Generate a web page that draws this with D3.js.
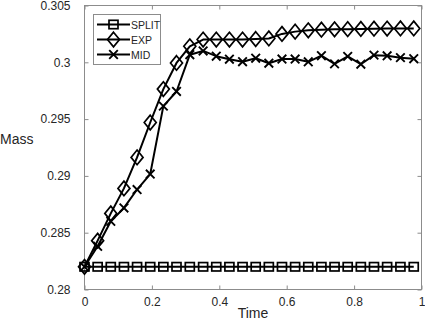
<!DOCTYPE html>
<html>
<head>
<meta charset="utf-8">
<script src="https://cdn.jsdelivr.net/npm/d3@7"></script>
<style>
  body { margin: 0; background: #fff; }
  text { font-family: "Liberation Sans", Arial, Helvetica, sans-serif; fill: #262626; }
</style>
</head>
<body>
<div id="chart"></div>
<script>
// time steps (x)
const times = [0, 0.039, 0.078, 0.117, 0.156, 0.195, 0.234, 0.273, 0.3125, 0.352,
  0.391, 0.430, 0.469, 0.508, 0.547, 0.586, 0.625, 0.664, 0.703, 0.742,
  0.781, 0.820, 0.859, 0.898, 0.9375, 0.977];

const splitMass = [0.282, 0.282, 0.282, 0.282, 0.282, 0.282, 0.282, 0.282, 0.282, 0.282,
  0.282, 0.282, 0.282, 0.282, 0.282, 0.282, 0.282, 0.282, 0.282, 0.282,
  0.282, 0.282, 0.282, 0.282, 0.282, 0.282];

const expMass = [0.282, 0.2843, 0.2867, 0.2889, 0.29163, 0.2947, 0.29764, 0.29994, 0.30141, 0.3020,
  0.3020, 0.3020, 0.3020, 0.30205, 0.3021, 0.3025, 0.3027, 0.30282, 0.30287, 0.3029,
  0.30292, 0.30294, 0.30296, 0.30297, 0.30298, 0.30298];

const midMass = [0.282, 0.2838, 0.2860, 0.28718, 0.2888, 0.29016, 0.29614, 0.29743, 0.30067, 0.3010,
  0.30054, 0.30027, 0.30005, 0.30036, 0.29992, 0.30029, 0.30029, 0.30004, 0.30058, 0.29986,
  0.30052, 0.29983, 0.30063, 0.30057, 0.30041, 0.30032];

const seriesNames = ["SPLIT", "EXP", "MID"];
const xTicks = [0, 0.2, 0.4, 0.6, 0.8, 1];
const yTicks = [0.28, 0.285, 0.29, 0.295, 0.3, 0.305];

const W = 425, H = 327;
const pLeft = 84.5, pRight = 421.5, pTop = 5.5, pBottom = 289.5;
const axisColor = "#8c8c8c";

const svg = d3.select("#chart").append("svg")
  .attr("width", W)
  .attr("height", H);

const x = d3.scaleLinear().domain([0, 1]).range([pLeft, pRight]);
const y = d3.scaleLinear().domain([0.28, 0.305]).range([pBottom, pTop]);

// box and ticks (MATLAB style, inward ticks on all sides)
const tickLen = 4;
svg.append("rect")
  .attr("x", pLeft).attr("y", pTop)
  .attr("width", pRight - pLeft).attr("height", pBottom - pTop)
  .attr("fill", "none").attr("stroke", axisColor).attr("stroke-width", 1);

const xAxis = svg.append("g")
  .attr("transform", `translate(0,${pBottom})`)
  .call(d3.axisBottom(x).tickValues(xTicks).tickSize(-tickLen).tickPadding(8)
    .tickFormat(d => d3.format("~g")(d)));
const xAxisTop = svg.append("g")
  .attr("transform", `translate(0,${pTop})`)
  .call(d3.axisTop(x).tickValues(xTicks).tickSize(-tickLen).tickFormat(""));
const yAxis = svg.append("g")
  .attr("transform", `translate(${pLeft},0)`)
  .call(d3.axisLeft(y).tickValues(yTicks).tickSize(-tickLen).tickPadding(14)
    .tickFormat(d => d3.format("~g")(d)));
const yAxisRight = svg.append("g")
  .attr("transform", `translate(${pRight},0)`)
  .call(d3.axisRight(y).tickValues(yTicks).tickSize(-tickLen).tickFormat(""));

[xAxis, xAxisTop, yAxis, yAxisRight].forEach(g => {
  g.select(".domain").remove();
  g.selectAll(".tick line").attr("stroke", axisColor);
  g.selectAll(".tick text")
    .attr("fill", "#262626")
    .style("font-size", "12px")
    .style("font-family", "'Liberation Sans', Arial, sans-serif");
});

// axis labels
svg.append("text")
  .attr("x", (pLeft + pRight) / 2)
  .attr("y", 318)
  .attr("text-anchor", "middle")
  .style("font-size", "14px")
  .text("Time");

svg.append("text")
  .attr("x", 0)
  .attr("y", 144)
  .style("font-size", "14px")
  .text("Mass");

// marker shapes
function drawMarker(g, kind, cx, cy) {
  if (kind === "SPLIT") {
    g.append("rect")
      .attr("x", cx - 4.5).attr("y", cy - 4.2)
      .attr("width", 9).attr("height", 8.4)
      .attr("fill", "none").attr("stroke", "#000").attr("stroke-width", 1.7);
  } else if (kind === "EXP") {
    g.append("path")
      .attr("d", `M${cx},${cy - 7.3}L${cx + 6},${cy}L${cx},${cy + 7.3}L${cx - 6},${cy}Z`)
      .attr("fill", "none").attr("stroke", "#000").attr("stroke-width", 1.7);
  } else {
    const r = 4.3;
    g.append("path")
      .attr("d", `M${cx - r},${cy - r}L${cx + r},${cy + r}M${cx - r},${cy + r}L${cx + r},${cy - r}`)
      .attr("fill", "none").attr("stroke", "#000").attr("stroke-width", 1.9);
  }
}

const allSeries = [
  { name: "SPLIT", values: splitMass },
  { name: "EXP", values: expMass },
  { name: "MID", values: midMass }
];

const line = d3.line()
  .x((d, i) => x(times[i]))
  .y(d => y(d));

const plot = svg.append("g");
allSeries.forEach(s => {
  plot.append("path")
    .datum(s.values)
    .attr("d", line)
    .attr("fill", "none")
    .attr("stroke", "#000")
    .attr("stroke-width", 2)
    .attr("stroke-linejoin", "round");
  const mg = plot.append("g");
  s.values.forEach((v, i) => drawMarker(mg, s.name, x(times[i]), y(v)));
});

// legend
const legend = svg.append("g");
legend.append("rect")
  .attr("x", 93.5).attr("y", 14.5)
  .attr("width", 67).attr("height", 50)
  .attr("fill", "#fff").attr("stroke", axisColor).attr("stroke-width", 1);

seriesNames.forEach((name, i) => {
  const cy = 24.5 + i * 15;
  legend.append("line")
    .attr("x1", 97).attr("x2", 130)
    .attr("y1", cy).attr("y2", cy)
    .attr("stroke", "#000").attr("stroke-width", 2);
  drawMarker(legend, name, 113.5, cy);
  legend.append("text")
    .attr("x", 131)
    .attr("y", cy + 4)
    .style("font-size", "10.5px")
    .text(name);
});
</script>
</body>
</html>
